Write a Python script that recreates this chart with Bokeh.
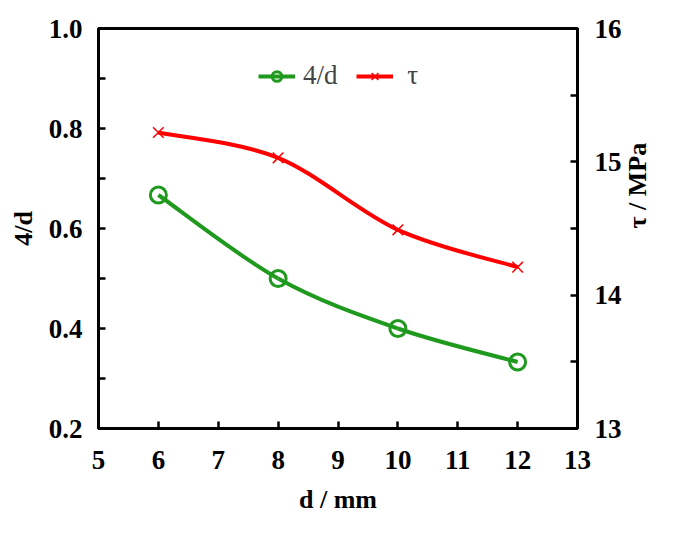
from bokeh.plotting import figure
from bokeh.models import (Range1d, LinearAxis, FixedTicker, Legend, LegendItem,
                          PrintfTickFormatter)
from bokeh.embed import file_html
from bokeh.resources import INLINE

# ---- data ----
d_mm = [6, 8, 10, 12]
inv_d = [0.667, 0.500, 0.400, 0.333]
tau_mpa = [15.22, 15.03, 14.49, 14.21]

x_ticks = [5, 6, 7, 8, 9, 10, 11, 12, 13]
left_ticks = [0.2, 0.4, 0.6, 0.8, 1.0]
left_minor = [0.3, 0.5, 0.7, 0.9]
right_ticks = [13, 14, 15, 16]
right_minor = [13.5, 14.5, 15.5]

GREEN = "#1f9a1f"
RED = "#ff0000"
FONT = "Liberation Serif"


def smooth_segments(xs, ys):
    """Catmull-Rom -> cubic Bezier control points (per segment)."""
    n = len(xs)
    seg = dict(x0=[], y0=[], x1=[], y1=[], cx0=[], cy0=[], cx1=[], cy1=[])
    for i in range(n - 1):
        i0 = max(i - 1, 0)
        i3 = min(i + 2, n - 1)
        seg["x0"].append(xs[i]); seg["y0"].append(ys[i])
        seg["x1"].append(xs[i + 1]); seg["y1"].append(ys[i + 1])
        seg["cx0"].append(xs[i] + (xs[i + 1] - xs[i0]) / 6.0)
        seg["cy0"].append(ys[i] + (ys[i + 1] - ys[i0]) / 6.0)
        seg["cx1"].append(xs[i + 1] - (xs[i3] - xs[i]) / 6.0)
        seg["cy1"].append(ys[i + 1] - (ys[i3] - ys[i]) / 6.0)
    return seg


p = figure(width=669, height=528, output_backend="svg", toolbar_location=None,
           x_range=Range1d(5, 13), y_range=Range1d(0.2, 1.0),
           min_border_left=98, min_border_right=91,
           min_border_top=28, min_border_bottom=100)
p.extra_y_ranges = {"tau": Range1d(13, 16)}
p.grid.visible = False
p.outline_line_color = "black"
p.outline_line_width = 3
p.outline_line_alpha = 1

# green series
gs = smooth_segments(d_mm, inv_d)
g_bz = p.bezier(line_color=GREEN, line_width=4, **gs)
g_sc = p.scatter(d_mm, inv_d, marker="circle", size=16, line_color=GREEN,
                 line_width=3, fill_color=None)

# red series
rs = smooth_segments(d_mm, tau_mpa)
r_bz = p.bezier(line_color=RED, line_width=4, y_range_name="tau", **rs)
r_sc = p.scatter(d_mm, tau_mpa, marker="x", size=15, line_color=RED,
                 line_width=1.5, y_range_name="tau")


def style_axis(ax):
    ax.axis_line_width = 3
    ax.axis_line_color = "black"
    ax.major_tick_in = 7
    ax.major_tick_out = 0
    ax.minor_tick_in = 7
    ax.minor_tick_out = 0
    ax.major_tick_line_width = 2.5
    ax.minor_tick_line_width = 2.5
    ax.major_label_text_font = FONT
    ax.major_label_text_font_style = "bold"
    ax.major_label_text_font_size = "27px"
    ax.major_label_text_color = "black"
    ax.major_label_standoff = 16
    ax.axis_label_text_font = FONT
    ax.axis_label_text_font_style = "bold"
    ax.axis_label_text_font_size = "26px"
    ax.axis_label_text_color = "black"


xa = p.xaxis[0]
xa.ticker = FixedTicker(ticks=x_ticks)
xa.axis_label = "d / mm"
style_axis(xa)
xa.major_label_standoff = 22
xa.axis_label_standoff = 13

ya = p.yaxis[0]
ya.ticker = FixedTicker(ticks=left_ticks, minor_ticks=left_minor)
ya.formatter = PrintfTickFormatter(format="%.1f")
ya.axis_label = "4/d"
style_axis(ya)
ya.axis_label_standoff = 8

ra = LinearAxis(y_range_name="tau", axis_label="τ / MPa",
                ticker=FixedTicker(ticks=right_ticks, minor_ticks=right_minor))
style_axis(ra)
ra.major_label_standoff = 17
ra.axis_label_standoff = 13
ra.axis_label_orientation = 1.5707963
p.add_layout(ra, "right")

legend = Legend(items=[LegendItem(label="4/d", renderers=[g_bz, g_sc]),
                       LegendItem(label=" τ", renderers=[r_bz, r_sc])],
                orientation="horizontal", location=(160, 337),
                border_line_color=None, background_fill_alpha=0,
                label_text_font=FONT, label_text_font_size="27px",
                glyph_width=37, glyph_height=24, spacing=18, padding=0,
                label_standoff=8, margin=0)
p.add_layout(legend, "center")

open("out.html", "w").write(file_html(p, INLINE))
